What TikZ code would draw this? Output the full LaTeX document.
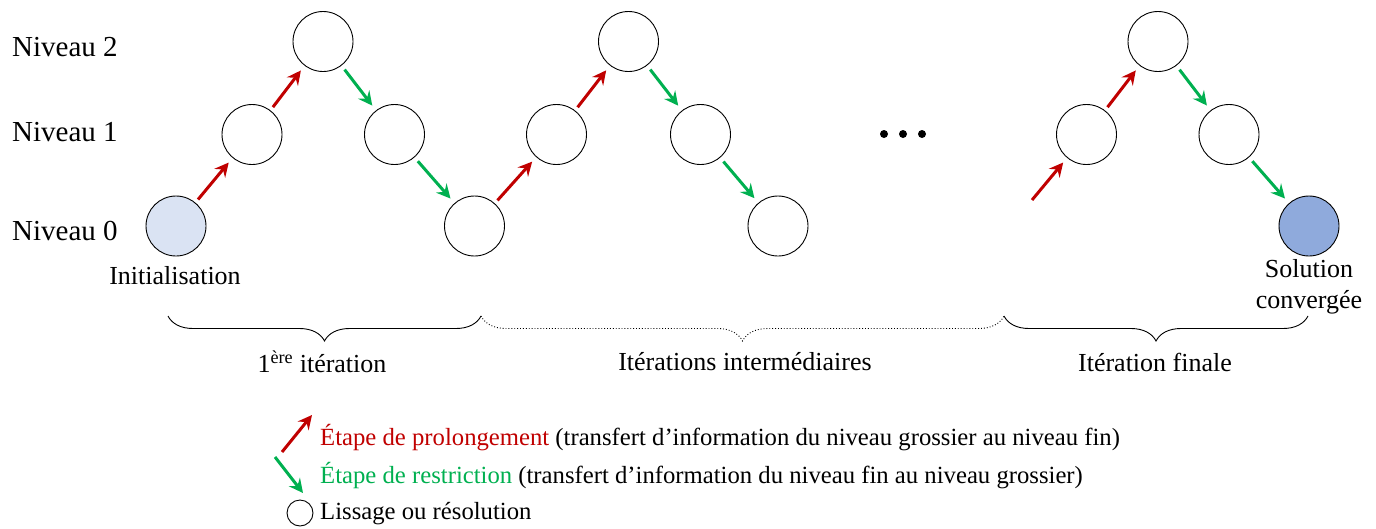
\documentclass[tikz,border=0pt]{standalone}
\usepackage{fontspec}
\setmainfont{Liberation Serif}
\usetikzlibrary{arrows.meta,decorations.pathreplacing}
\definecolor{prolred}{RGB}{192,0,0}
\definecolor{restrgreen}{RGB}{0,176,80}
\definecolor{initblue}{RGB}{218,227,243}
\definecolor{solblue}{RGB}{143,170,220}
\begin{document}
\begin{tikzpicture}[x=1pt,y=-1pt,
  lvl/.style={circle,draw=black,line width=0.9pt,minimum size=60pt,inner sep=0pt},
  prol/.style={draw=prolred,line width=3pt,-{Stealth[length=14pt,width=14pt,inset=5pt]},shorten <=4pt,shorten >=6pt},
  restr/.style={draw=restrgreen,line width=3pt,-{Stealth[length=14pt,width=14pt,inset=5pt]},shorten <=5pt,shorten >=6pt},
  lbl/.style={font=\fontsize{29}{34}\selectfont,inner sep=0pt},
  txt/.style={font=\fontsize{26}{31}\selectfont,inner sep=0pt},
  leg/.style={font=\fontsize{24.7}{30}\selectfont,inner sep=0pt},
  brc/.style={decorate,decoration={brace,amplitude=25pt,mirror},line width=0.9pt},
  dotbrc/.style={decorate,decoration={brace,amplitude=25pt,mirror},line width=0.9pt,dotted},
  dotn/.style={circle,fill=black,inner sep=0pt,minimum size=8pt}]
\useasboundingbox (0,0) rectangle (1376,528);
% level labels
\node[lbl,anchor=west] (n2) at (12,47) {Niveau 2};
\node[lbl,anchor=west] (n1) at (12,132) {Niveau 1};
\node[lbl,anchor=west] (n0) at (12,231) {Niveau 0};
% circles
\node[lvl,fill=initblue] (l0a) at (176,226) {};
\node[lvl] (l1a) at (252,134.5) {};
\node[lvl] (l2a) at (323,41.5) {};
\node[lvl] (l1b) at (394.5,134.5) {};
\node[lvl] (l0b) at (474.5,226) {};
\node[lvl] (l1c) at (556.5,134.5) {};
\node[lvl] (l2b) at (628.5,41.5) {};
\node[lvl] (l1d) at (700.5,134.5) {};
\node[lvl] (l0c) at (778,226) {};
\node[lvl] (l1e) at (1086.5,134.5) {};
\node[lvl] (l2c) at (1158,41.5) {};
\node[lvl] (l1f) at (1229,134.5) {};
\node[lvl,fill=solblue] (l0d) at (1309,226) {};
% arrows
\draw[prol] (l0a) -- (l1a);
\draw[prol] (l1a) -- (l2a);
\draw[restr] (l2a) -- (l1b);
\draw[restr] (l1b) -- (l0b);
\draw[prol] (l0b) -- (l1c);
\draw[prol] (l1c) -- (l2b);
\draw[restr] (l2b) -- (l1d);
\draw[restr] (l1d) -- (l0c);
\coordinate (fin0) at (1032,200);
\draw[prol,shorten <=0pt] (fin0) -- (l1e);
\draw[prol] (l1e) -- (l2c);
\draw[restr] (l2c) -- (l1f);
\draw[restr] (l1f) -- (l0d);
% dots
\node[dotn] (d1) at (884,134) {};
\node[dotn] (d2) at (903,134) {};
\node[dotn] (d3) at (922,134) {};
% labels under circles
\node[txt] (init) at (175,276) {Initialisation};
\node[txt,align=center,font=\fontsize{26}{31}\selectfont] (sol) at (1309,287) {Solution\\convergée};
% braces
\coordinate (b0) at (168,316);
\coordinate (b1) at (481,316);
\coordinate (b2) at (1004,316);
\coordinate (b3) at (1308,316);
\draw[brc] (b0) -- (b1);
\draw[dotbrc] (b1) -- (b2);
\draw[brc] (b2) -- (b3);
\node[txt] (it1) at (322,362) {1\textsuperscript{ère} itération};
\node[txt] (itm) at (745,362) {Itérations intermédiaires};
\node[txt] (itf) at (1155,362) {Itération finale};
% legend
\coordinate (lp1) at (282,452);
\coordinate (lp2) at (312,415);
\draw[prol,shorten <=0pt,shorten >=0pt] (lp1) -- (lp2);
\coordinate (lr1) at (275,457);
\coordinate (lr2) at (303,493);
\draw[restr,shorten <=0pt,shorten >=0pt] (lr1) -- (lr2);
\node[circle,draw=black,line width=0.9pt,minimum size=26pt,inner sep=0pt] (lc) at (300,513) {};
\node[leg,anchor=west] (lt1) at (320,438) {\textcolor{prolred}{Étape de prolongement} (transfert d’information du niveau grossier au niveau fin)};
\node[leg,anchor=west] (lt2) at (320,476) {\textcolor{restrgreen}{Étape de restriction} (transfert d’information du niveau fin au niveau grossier)};
\node[leg,anchor=west] (lt3) at (320,514) {Lissage ou résolution};
\end{tikzpicture}
\end{document}
